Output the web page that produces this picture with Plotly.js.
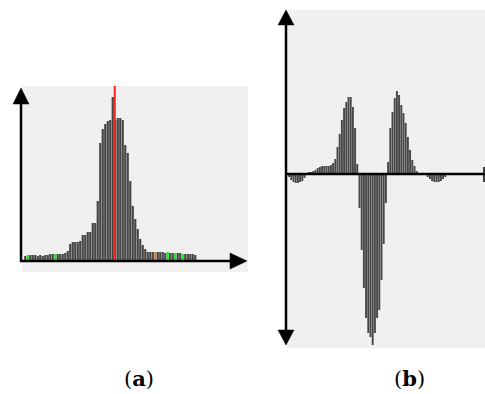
<!DOCTYPE html>
<html><head><meta charset="utf-8">
<script src="https://cdn.plot.ly/plotly-3.0.1.min.js"></script>
<style>html,body{margin:0;padding:0;background:#fff;}#chart{width:485px;height:394px;}</style>
</head><body><div id="chart"></div>
<script>
// Panel (a): histogram bin heights
const histA = [5,6,6,6,6,5,6,5,6,6,7,7,7,7,7,7,8,10,17,19,19,19,20,26,26,29,29,38,38,60,118,132,137,140,141,164,141,143,143,141,116,108,80,55,42,32,22,16,12,9,9,9,9,9,9,9,8,9,8,8,8,8,8,7,7,7,7,7,6];
const greenBinsA = [1,12,57,60,63];
const orangeBinsA = [52];
const redLineBinA = 35.8;
// Panel (b): signed difference values
const diffB = [-3,-6,-8,-9,-9,-8,-7,-4,-1,2,2,3,4,6,7,8,8,8,8,9,11,15,27,40,54,66,72,77,77,67,46,10,-34,-76,-114,-144,-159,-163,-171,-159,-144,-136,-106,-70,-29,12,46,62,76,83,79,69,61,51,37,24,14,8,3,1,0,0,-1,-3,-5,-7,-8,-8,-8,-7,-5,-3,-1];
const panelLabels = ['(<b>a</b>)','(<b>b</b>)'];

const W=485,H=394;
const px=x=>x/W, py=y=>(H-y)/H;
const barCol='#474747';
const colorsA = histA.map((v,i)=> greenBinsA.includes(i)?'#1ee61e':(orangeBinsA.includes(i)?'#c8823c':barCol));

const traces = [
 {type:'bar', x:histA.map((v,i)=>i), y:histA, marker:{color:colorsA}, xaxis:'x', yaxis:'y', hoverinfo:'none'},
 {type:'scatter', mode:'lines', x:[redLineBinA,redLineBinA], y:[0,175], line:{color:'#ff2020',width:2}, xaxis:'x', yaxis:'y', hoverinfo:'none'},
 {type:'bar', x:diffB.map((v,i)=>i), y:diffB, marker:{color:barCol}, xaxis:'x2', yaxis:'y2', hoverinfo:'none'}
];

function line(x0,y0,x1,y1,w){return {type:'line',xref:'paper',yref:'paper',x0:px(x0),y0:py(y0),x1:px(x1),y1:py(y1),line:{color:'#000',width:w}};}
function tri(pts){return {type:'path',xref:'paper',yref:'paper',path:'M'+pts.map(p=>px(p[0])+','+py(p[1])).join(' L')+' Z',fillcolor:'#000',line:{color:'#000',width:0.5}};}

const shapes=[
 line(21,262,21,100,2.5), line(20,261,233,261,2.5),
 tri([[21,88],[13,104],[29,104]]), tri([[247,261],[230,253],[230,269]]),
 line(286,24,286,331,2.5), line(286,174,485,174,2.5), line(484,167,484,182,1.5),
 tri([[286,10],[278,25],[294,25]]), tri([[286,345],[278,330],[294,330]])
];

const ax={showgrid:false,zeroline:false,showticklabels:false,ticks:'',showline:false,fixedrange:true};
const layout={
 width:W,height:H,margin:{l:0,r:0,t:0,b:0},showlegend:false,
 paper_bgcolor:'#fff',plot_bgcolor:'#f0f0f0',bargap:0.12,
 xaxis:Object.assign({},ax,{domain:[px(22),px(248)],range:[-1.3,89.1]}),
 yaxis:Object.assign({},ax,{domain:[py(272),py(86)],range:[-11,175]}),
 xaxis2:Object.assign({},ax,{domain:[px(287),1],range:[-0.95,89.05],anchor:'y2'}),
 yaxis2:Object.assign({},ax,{domain:[py(348),py(10)],range:[-174,164],anchor:'x2'}),
 shapes:shapes,
 annotations:[
  {text:panelLabels[0],xref:'paper',yref:'paper',x:px(139),y:py(378),xanchor:'center',yanchor:'middle',showarrow:false,font:{family:'DejaVu Serif, serif',size:21,color:'#000'}},
  {text:panelLabels[1],xref:'paper',yref:'paper',x:px(409),y:py(378),xanchor:'center',yanchor:'middle',showarrow:false,font:{family:'DejaVu Serif, serif',size:21,color:'#000'}}
 ]
};
Plotly.newPlot('chart',traces,layout,{staticPlot:true,displayModeBar:false});
</script></body></html>
